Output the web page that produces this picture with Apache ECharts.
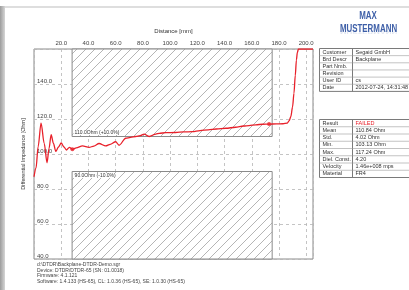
<!DOCTYPE html>
<html>
<head>
<meta charset="utf-8">
<script src="https://cdn.jsdelivr.net/npm/echarts@6/dist/echarts.min.js"></script>
<style>
	html, body { margin: 0; padding: 0; background: #fff; }
	#chart { width: 409px; height: 290px; }
</style>
</head>
<body>
<div id="chart"></div>
<script>
	// impedance trace [distance mm, ohm]
	var trace = [
		[0, 87], [1.5, 92], [3, 104], [5.2, 117.7], [7.5, 106], [9.6, 95], [11, 103], [12.6, 111],
		[14.3, 106], [16, 101.5], [18, 104], [20, 106.3], [22, 104], [23.8, 102.3], [26, 103.8],
		[28.2, 102.7], [31, 103.5], [35.6, 104.6], [40.5, 103.8], [44, 104.5], [47.8, 106],
		[52.7, 104.6], [56, 105.5], [60, 107], [62.5, 105], [67.4, 109], [71, 109.5], [74.8, 110],
		[78, 110.5], [80.9, 111.4], [84.6, 110], [89.5, 111.4], [92, 111.8], [96.8, 112.2],
		[104, 112.3], [110, 112.6], [116.4, 112.8], [122, 113.4], [128, 113.8], [134, 114.3],
		[141, 114.7], [148, 115.3], [154, 116], [158, 116.2], [163, 116.7], [168, 117],
		[172.7, 117.1], [178, 117.2], [183, 117.3], [186, 117.6], [187.5, 119], [188.7, 121.3],
		[190, 127], [191, 134.7], [192, 145], [192.8, 153.7], [193.5, 158], [194.3, 160], [205, 160]
	];
	var cursors = [[28.2, 102.7], [172.7, 117.1]];
	var limitRange = [28, 175];
	var upperLimit = 110;
	var lowerLimit = 90;
	var upperText = '110.0Ohm (+10.0%)';
	var lowerText = '90.0Ohm (-10.0%)';

	var headKeys = ['Customer', 'Brd Descr', 'Part Nmb.', 'Revision', 'User ID', 'Date'];
	var headVals = ['Segaid GmbH', 'Backplane', '', '', 'cs', '2012-07-24, 14:31:48'];
	var resKeys = ['Result', 'Mean', 'Std.', 'Min.', 'Max.', 'Diel. Const.', 'Velocity', 'Material'];
	var resVals = ['FAILED', '110.84 Ohm', '4.02 Ohm', '103.13 Ohm', '117.24 Ohm', '4.20', '1.46e+008 mps', 'FR4'];
	var footer = [
		'd:\\DTDR\\Backplane-DTDR-Demo.sgr',
		'Device: DTDR/DTDR-65 (SN: 01.0018)',
		'Firmware: 4.1.121',
		'Software: 1.4.133 (HS-65), CL: 1.0.36 (HS-65), SE: 1.0.30 (HS-65)'
	];

	/*----hatch pattern----*/
	var hatch = document.createElement('canvas');
	hatch.width = 9;
	hatch.height = 9;
	var hc = hatch.getContext('2d');
	hc.fillStyle = '#fff';
	hc.fillRect(0, 0, 9, 9);
	hc.strokeStyle = '#a2a2a2';
	hc.lineWidth = 0.8;
	hc.beginPath();
	hc.moveTo(-1, 10); hc.lineTo(10, -1);
	hc.moveTo(-1, 1); hc.lineTo(1, -1);
	hc.moveTo(8, 10); hc.lineTo(10, 8);
	hc.stroke();

	/*----tables----*/
	var graphics = [];
	function table(keys, vals, x, y, colX, w, rowH) {
		var h = rowH * keys.length;
		graphics.push({ type: 'rect', shape: { x: x, y: y, width: w, height: h }, style: { fill: '#fff', stroke: '#7a7a7a', lineWidth: 1 } });
		graphics.push({ type: 'line', shape: { x1: colX, y1: y, x2: colX, y2: y + h }, style: { stroke: '#7a7a7a', lineWidth: 1 } });
		keys.forEach(function(k, i) {
			var ry = y + i * rowH;
			if (i > 0) {
				graphics.push({ type: 'line', shape: { x1: x, y1: ry, x2: x + w, y2: ry }, style: { stroke: '#9a9a9a', lineWidth: 0.6 } });
			}
			graphics.push({ type: 'text', x: x + 3, y: ry + rowH / 2, style: { text: k, fontSize: 5.5, fontFamily: 'Liberation Sans', fill: '#333', verticalAlign: 'middle' } });
			graphics.push({ type: 'text', x: colX + 3, y: ry + rowH / 2, style: { text: vals[i], fontSize: 5.5, fontFamily: 'Liberation Sans', fill: vals[i] === 'FAILED' ? '#e8202a' : '#333', verticalAlign: 'middle' } });
		});
	}
	table(headKeys, headVals, 319.5, 48.5, 352.5, 95, 7.15);
	table(resKeys, resVals, 319.5, 119.5, 352.5, 95, 7.25);

	footer.forEach(function(t, i) {
		graphics.push({ type: 'text', x: 37, y: 262 + i * 5.8, style: { text: t, fontSize: 5, fontFamily: 'Liberation Sans', fill: '#444' } });
	});

	// page edge and logo
	graphics.push({ type: 'rect', shape: { x: 5, y: 6, width: 404, height: 2 }, style: { fill: '#dedede' } });
	graphics.push({ type: 'rect', shape: { x: 0, y: 6, width: 5, height: 284 }, style: {
		fill: new echarts.graphic.LinearGradient(0, 0, 1, 0, [{ offset: 0, color: '#9c9c9c' }, { offset: 1, color: '#d6d6d6' }])
	} });
	var logoFont = { fontSize: 11, fontWeight: 'bold', fontFamily: 'Liberation Sans', fill: '#3f60a8', align: 'center', verticalAlign: 'middle' };
	graphics.push({ type: 'text', x: 368, y: 15.5, scaleX: 0.72, style: Object.assign({ text: 'MAX' }, logoFont) });
	graphics.push({ type: 'text', x: 368.5, y: 28.5, scaleX: 0.72, style: Object.assign({ text: 'MUSTERMANN' }, logoFont) });
	graphics.push({ type: 'text', x: 368.5, y: 34, scaleX: 0.72, scaleY: -0.45, style: Object.assign({ text: 'MUSTERMANN', opacity: 0.15 }, logoFont, { verticalAlign: 'top' }) });

	var chart = echarts.init(document.getElementById('chart'));
	var option = {
		animation: false,
		backgroundColor: '#fff',
		grid: {
			left: 34,
			top: 49,
			right: 96,
			bottom: 31,
			show: true,
			borderColor: '#8a8a8a',
			borderWidth: 1
		},
		xAxis: {
			type: 'value',
			position: 'top',
			min: 0,
			max: 205,
			interval: 20,
			name: 'Distance [mm]',
			nameLocation: 'middle',
			nameGap: 15,
			nameTextStyle: { fontSize: 6, color: '#333', fontFamily: 'Liberation Sans' },
			axisLine: { show: false },
			axisTick: { show: false },
			axisLabel: {
				fontSize: 6,
				color: '#444',
				margin: 3,
				fontFamily: 'Liberation Sans',
				formatter: function(v) { return (v === 0 || v > 200) ? '' : v.toFixed(1); }
			},
			splitLine: { lineStyle: { color: '#b5b5b5', type: [3, 3], width: 0.8 } }
		},
		yAxis: {
			type: 'value',
			min: 40,
			max: 160,
			interval: 20,
			name: 'Differential Impedance [Ohm]',
			nameLocation: 'middle',
			nameGap: 8,
			nameTextStyle: { fontSize: 5.5, color: '#333', fontFamily: 'Liberation Sans' },
			axisLine: { show: false },
			axisTick: { show: false },
			axisLabel: {
				inside: true,
				fontSize: 6,
				color: '#444',
				margin: 3,
				verticalAlign: 'bottom',
				fontFamily: 'Liberation Sans',
				formatter: function(v) { return v >= 160 ? '' : v.toFixed(1); }
			},
			splitLine: { lineStyle: { color: '#b5b5b5', type: [3, 3], width: 0.8 } }
		},
		series: [{
			name: 'limits',
			type: 'line',
			data: [],
			markArea: {
				silent: true,
				itemStyle: {
					color: { image: hatch, repeat: 'repeat' },
					opacity: 1,
					borderColor: '#8a8a8a',
					borderWidth: 1
				},
				label: { fontSize: 5, color: '#333', fontFamily: 'Liberation Sans', backgroundColor: '#fff', padding: [0, 1] },
				data: [
					[{ coord: [limitRange[0], upperLimit], label: { position: 'insideBottomLeft', formatter: upperText, distance: 2 } }, { coord: [limitRange[1], 160] }],
					[{ coord: [limitRange[0], 40], label: { position: 'insideTopLeft', formatter: lowerText, distance: 2 } }, { coord: [limitRange[1], lowerLimit] }]
				]
			}
		}, {
			name: 'impedance',
			type: 'line',
			data: trace,
			smooth: 0.3,
			smoothMonotone: 'x',
			showSymbol: false,
			lineStyle: { color: '#e8202a', width: 1.3 },
			z: 5
		}, {
			name: 'cursor',
			type: 'scatter',
			data: cursors,
			symbolSize: 4,
			itemStyle: { color: '#e8202a' },
			z: 6
		}],
		graphic: graphics
	};
	chart.setOption(option);
</script>
</body>
</html>
